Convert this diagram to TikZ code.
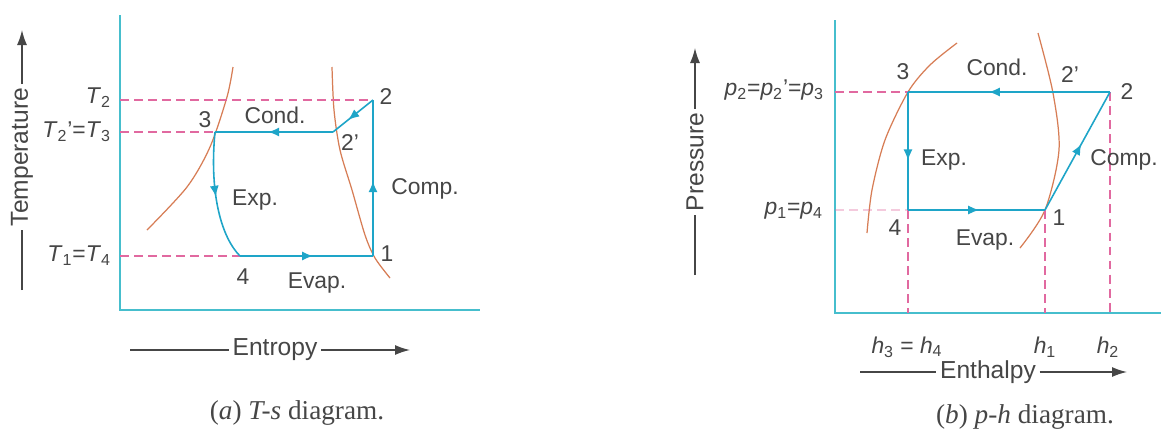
\documentclass[tikz,border=0pt]{standalone}
\usepackage{fontspec}
\setmainfont{Liberation Sans}
\newfontfamily\capfont{Liberation Serif}
\usetikzlibrary{arrows.meta,decorations.markings}
\definecolor{axiscyan}{RGB}{70,190,205}
\definecolor{cyclecyan}{RGB}{30,165,200}
\definecolor{satorange}{RGB}{215,125,85}
\definecolor{dashpink}{RGB}{225,105,160}
\definecolor{labelgray}{RGB}{70,70,70}
\newcommand{\pvar}[2]{\textit{#1}\textsubscript{#2}}

\begin{document}
\begin{tikzpicture}[x=0.02cm,y=-0.02cm,
  axis/.style={axiscyan,line width=1.1pt},
  proc/.style={cyclecyan,line width=0.9pt},
  flow/.style={postaction={decorate},decoration={markings,
    mark=at position #1 with {\arrow{Latex[length=2.2mm,width=1.8mm]}}}},
  sat/.style={satorange,line width=0.7pt},
  guide/.style={dashpink,line width=0.6pt,dash pattern=on 5pt off 3pt},
  lbl/.style={text=labelgray,font=\fontsize{13}{15}\selectfont,inner sep=1pt},
  axlbl/.style={text=labelgray,font=\fontsize{14}{16}\selectfont,inner sep=2pt},
  axarrow/.style={labelgray,line width=0.8pt},
  caption/.style={text=labelgray,font=\capfont\fontsize{15.5}{17}\selectfont}
]
  \useasboundingbox[fill=white] (0,0) rectangle (1161,430);

  % (a) T-s diagram
  \coordinate (aTop) at (120,15);
  \coordinate (aO) at (120,310);
  \coordinate (aEnd) at (480,310);
  \draw[axis] (aTop) -- (aO) -- (aEnd);

  \coordinate (s2) at (373,100);
  \coordinate (s2p) at (333,132);
  \coordinate (s3) at (215,132);
  \coordinate (s4) at (240,256);
  \coordinate (s1) at (373,256);

  \draw[sat] plot[smooth] coordinates {(147,230) (187,187) (210,147) (227,97) (233,67)};
  \draw[sat] plot[smooth] coordinates {(332,67) (334,110) (340,150) (352,190) (365,235) (375,258) (390,278)};

  \draw[guide] (aO |- s2) -- (s2);
  \draw[guide] (aO |- s3) -- (s3);
  \draw[guide] (aO |- s4) -- (s4);

  \draw[proc,flow=0.62] (s2) -- (s2p);
  \draw[proc,flow=0.55] (s2p) -- (s3);
  \draw[proc,flow=0.5] (s3) .. controls (209,195) and (222,238) .. (s4);
  \draw[proc,flow=0.55] (s4) -- (s1);
  \draw[proc,flow=0.48] (s1) -- (s2);

  \node[lbl,anchor=east] (lT2) at (113,98) {\pvar{T}{2}};
  \node[lbl,anchor=east] (lT3) at (113,132) {\pvar{T}{2}'=\pvar{T}{3}};
  \node[lbl,anchor=east] (lT1) at (113,256) {\pvar{T}{1}=\pvar{T}{4}};
  \node[lbl] (n3) at (205,120) {3};
  \node[lbl] (cond) at (275,115) {Cond.};
  \node[lbl] (n2p) at (350,143) {2'};
  \node[lbl] (n2) at (386,97) {2};
  \node[lbl] (comp) at (425,189) {Comp.};
  \node[lbl] (exp) at (255,200) {Exp.};
  \node[lbl] (n1) at (387,254) {1};
  \node[lbl] (n4) at (243,277) {4};
  \node[lbl] (evap) at (317,283) {Evap.};

  \node[axlbl,rotate=90] (tlab) at (22,157) {Temperature};
  \coordinate (tTip) at (22,30);
  \coordinate (tEnd) at (22,290);
  \draw[axarrow,-{Latex[length=3mm,width=2mm]}] (tlab.east) -- (tTip);
  \draw[axarrow] (tEnd) -- (tlab.west);

  \node[axlbl] (slab) at (275,350) {Entropy};
  \coordinate (sL) at (130,350);
  \coordinate (sR) at (410,350);
  \draw[axarrow] (sL) -- (slab.west);
  \draw[axarrow,-{Latex[length=3mm,width=2mm]}] (slab.east) -- (sR);

  \node[caption] (capa) at (297,413) {(\textit{a}) \textit{T-s} diagram.};

  % (b) p-h diagram
  \coordinate (bTop) at (835,20);
  \coordinate (bO) at (835,313);
  \coordinate (bEnd) at (1161,313);
  \draw[axis] (bTop) -- (bO) -- (bEnd);

  \coordinate (t3) at (908,92);
  \coordinate (t2) at (1110,92);
  \coordinate (t1) at (1045,210);
  \coordinate (t4) at (908,210);

  \draw[sat] plot[smooth] coordinates {(957,43) (930,65) (908,92) (885,140) (872,190) (867,233)};
  \draw[sat] plot[smooth] coordinates {(1038,33) (1053,93) (1059,150) (1045,210) (1020,248)};

  \draw[guide] (bO |- t3) -- (t3);
  \draw[guide,opacity=0.35] (bO |- t4) -- (t4);
  \draw[guide] (t4) -- (t4 |- bO);
  \draw[guide] (t1) -- (t1 |- bO);
  \draw[guide] (t2) -- (t2 |- bO);

  \draw[proc,flow=0.6] (t2) -- (t3);
  \draw[proc,flow=0.58] (t3) -- (t4);
  \draw[proc,flow=0.52] (t4) -- (t1);
  \draw[proc,flow=0.56] (t1) -- (t2);

  \node[lbl,anchor=east] (lp2) at (826,90) {\pvar{p}{2}=\pvar{p}{2}'=\pvar{p}{3}};
  \node[lbl,anchor=east] (lp1) at (825,211) {\pvar{p}{1}=\pvar{p}{4}};
  \node[lbl] (m3) at (903,72) {3};
  \node[lbl] (cond2) at (997,67) {Cond.};
  \node[lbl] (m2p) at (1070,75) {2'};
  \node[lbl] (m2) at (1127,92) {2};
  \node[lbl] (exp2) at (944,160) {Exp.};
  \node[lbl] (comp2) at (1124,160) {Comp.};
  \node[lbl] (m1) at (1059,218) {1};
  \node[lbl] (m4) at (895,228) {4};
  \node[lbl] (evap2) at (985,240) {Evap.};

  \node[lbl] (lh3) at (907,347) {\pvar{h}{3} = \pvar{h}{4}};
  \node[lbl] (lh1) at (1045,347) {\pvar{h}{1}};
  \node[lbl] (lh2) at (1108,347) {\pvar{h}{2}};

  \node[axlbl,rotate=90] (plab) at (695,162) {Pressure};
  \coordinate (pTip) at (695,48);
  \coordinate (pEnd) at (695,275);
  \draw[axarrow,-{Latex[length=3mm,width=2mm]}] (plab.east) -- (pTip);
  \draw[axarrow] (pEnd) -- (plab.west);

  \node[axlbl] (hlab) at (988,372) {Enthalpy};
  \coordinate (hL) at (860,372);
  \coordinate (hR) at (1127,372);
  \draw[axarrow] (hL) -- (hlab.west);
  \draw[axarrow,-{Latex[length=3mm,width=2mm]}] (hlab.east) -- (hR);

  \node[caption] (capb) at (1025,417) {(\textit{b}) \textit{p-h} diagram.};
\end{tikzpicture}
\end{document}
